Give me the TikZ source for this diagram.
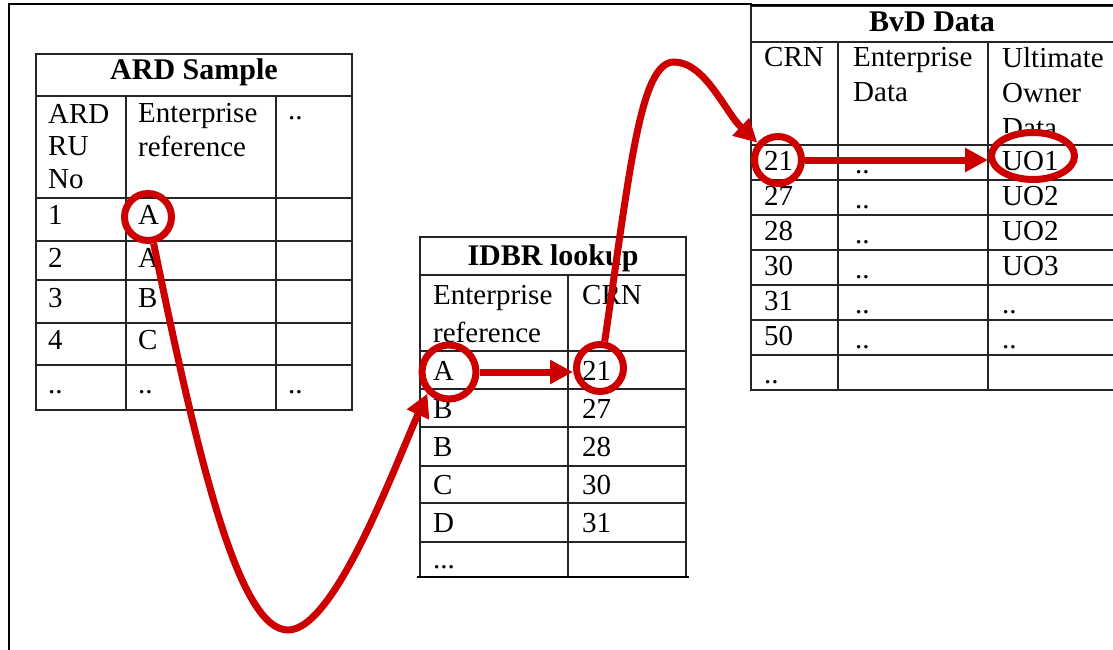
\documentclass[tikz,border=0pt]{standalone}
\usepackage{fontspec}
\setmainfont{Liberation Serif}
\usetikzlibrary{arrows.meta,shapes.geometric}
\definecolor{linkred}{RGB}{204,0,0}
\tikzset{>={Triangle[length=23pt,width=23pt]}}
\tikzset{
  grid/.style={line width=1.4pt,black!85},
  txt/.style={font=\fontsize{29}{34}\selectfont,inner sep=0pt,anchor=base west,align=left},
  ttl/.style={font=\bfseries\fontsize{30}{34}\selectfont,inner sep=0pt,anchor=base},
  ring/.style={draw=linkred,line width=7pt,circle,minimum size=47pt,inner sep=0pt},
  oval/.style={draw=linkred,line width=7pt,ellipse,minimum width=83pt,minimum height=47pt,inner sep=0pt},
  link/.style={->,draw=linkred,line width=7pt},
}

\begin{document}
\begin{tikzpicture}[x=1pt,y=-1pt]
  \useasboundingbox (0,0) rectangle (1113,650);
  \clip (0,0) rectangle (1113,650);
  % outer frame
  \draw[line width=2.2pt] (9,660) -- (9,4) -- (752,4);

  % ARD Sample
  \draw[grid] (36,54) rectangle (352,410);
  \draw[grid] (36,96) -- (352,96);
  \draw[grid] (36,198) -- (352,198);
  \draw[grid] (36,241) -- (352,241);
  \draw[grid] (36,280) -- (352,280);
  \draw[grid] (36,323) -- (352,323);
  \draw[grid] (36,365) -- (352,365);
  \draw[grid] (126,96) -- (126,410);
  \draw[grid] (276,96) -- (276,410);
  \node[ttl] (ard-t) at (194,80) {ARD Sample};
  \node[txt,font=\fontsize{29}{32.5}\selectfont] (ard-h1) at (48,188) {ARD\\RU\\No};
  \node[txt,font=\fontsize{29}{33}\selectfont] (ard-h2) at (138,156) {Enterprise\\reference};
  \node[txt] (ard-h3) at (288,120) {..};
  \node[txt] (ard-11) at (48,224) {1};
  \node[txt] (ard-12) at (138,224) {A};
  \node[txt] (ard-21) at (48,267) {2};
  \node[txt] (ard-22) at (138,267) {A};
  \node[txt] (ard-31) at (48,307) {3};
  \node[txt] (ard-32) at (138,307) {B};
  \node[txt] (ard-41) at (48,349) {4};
  \node[txt] (ard-42) at (138,349) {C};
  \node[txt] (ard-51) at (48,393) {..};
  \node[txt] (ard-52) at (138,393) {..};
  \node[txt] (ard-53) at (288,393) {..};

  % IDBR lookup
  \draw[grid] (420,237) rectangle (686,577);
  \draw[grid] (420,275) -- (686,275);
  \draw[grid] (420,351) -- (686,351);
  \draw[grid] (420,389) -- (686,389);
  \draw[grid] (420,427) -- (686,427);
  \draw[grid] (420,466) -- (686,466);
  \draw[grid] (420,503) -- (686,503);
  \draw[grid] (420,542) -- (686,542);
  \draw[grid] (568,275) -- (568,577);
  \draw[line width=2.2pt] (417,577) -- (689,577);
  \node[ttl] (ide-t) at (553,265) {IDBR lookup};
  \node[txt,font=\fontsize{29}{38}\selectfont] (ide-h1) at (433,342) {Enterprise\\reference};
  \node[txt] (ide-h2) at (582,304) {CRN};
  \node[txt] (ide-11) at (433,380) {A};
  \node[txt] (ide-12) at (582,380) {21};
  \node[txt] (ide-21) at (433,418) {B};
  \node[txt] (ide-22) at (582,418) {27};
  \node[txt] (ide-31) at (433,456) {B};
  \node[txt] (ide-32) at (582,456) {28};
  \node[txt] (ide-41) at (433,494) {C};
  \node[txt] (ide-42) at (582,494) {30};
  \node[txt] (ide-51) at (433,532) {D};
  \node[txt] (ide-52) at (582,532) {31};
  \node[txt] (ide-61) at (433,568) {...};

  % BvD Data
  \draw[grid] (751,6) rectangle (1130,390);
  \draw[line width=2.6pt] (751,5) -- (1130,5);
  \draw[grid] (751,42) -- (1130,42);
  \draw[grid] (751,145) -- (1130,145);
  \draw[grid] (751,180) -- (1130,180);
  \draw[grid] (751,215) -- (1130,215);
  \draw[grid] (751,250) -- (1130,250);
  \draw[grid] (751,285) -- (1130,285);
  \draw[grid] (751,320) -- (1130,320);
  \draw[grid] (751,355) -- (1130,355);
  \draw[grid] (838,42) -- (838,390);
  \draw[grid] (988,42) -- (988,390);
  \node[ttl] (bvd-t) at (932,32) {BvD Data};
  \node[txt] (bvd-h1) at (764,67) {CRN};
  \node[txt,font=\fontsize{29}{35}\selectfont] (bvd-h2) at (853,102) {Enterprise\\Data};
  \begin{scope}
    \clip (988,42) rectangle (1113,133);
    \node[txt,font=\fontsize{29}{35}\selectfont] (bvd-h3) at (1002,137) {Ultimate\\Owner\\Data};
  \end{scope}
  \node[txt] (bvd-11) at (764,170) {21};
  \node[txt] (bvd-12) at (855,173) {..};
  \node[txt] (bvd-13) at (1002,170) {UO1};
  \node[txt] (bvd-21) at (764,205) {27};
  \node[txt] (bvd-22) at (855,208) {..};
  \node[txt] (bvd-23) at (1002,205) {UO2};
  \node[txt] (bvd-31) at (764,240) {28};
  \node[txt] (bvd-32) at (855,243) {..};
  \node[txt] (bvd-33) at (1002,240) {UO2};
  \node[txt] (bvd-41) at (764,275) {30};
  \node[txt] (bvd-42) at (855,278) {..};
  \node[txt] (bvd-43) at (1002,275) {UO3};
  \node[txt] (bvd-51) at (764,310) {31};
  \node[txt] (bvd-52) at (855,313) {..};
  \node[txt] (bvd-53) at (1002,313) {..};
  \node[txt] (bvd-61) at (764,345) {50};
  \node[txt] (bvd-62) at (855,348) {..};
  \node[txt] (bvd-63) at (1002,348) {..};
  \node[txt] (bvd-71) at (764,383) {..};

  % red rings
  \node[ring] (ardA) at (148,217) {};
  \node[ring,minimum height=54pt] (ideA) at (449,372) {};
  \node[ring] (ideC) at (600,368) {};
  \node[ring] (bvdC) at (778,160) {};
  \node[oval] (bvdU) at (1033,156) {};

  % links
  \draw[link] (ardA.-78) .. controls (200,470) and (240,630) .. (288,630)
    .. controls (335,630) and (395,465) .. (ideA.225);
  \draw[link] (ideA.east) -- (ideA.east -| ideC.west);
  \draw[link] (ideC.80) .. controls (630,170) and (640,62) .. (674,62)
    .. controls (705,62) and (725,112) .. (bvdC.140);
  \draw[link] (bvdC.east) -- (bvdC.east -| bvdU.west);
\end{tikzpicture}
\end{document}
